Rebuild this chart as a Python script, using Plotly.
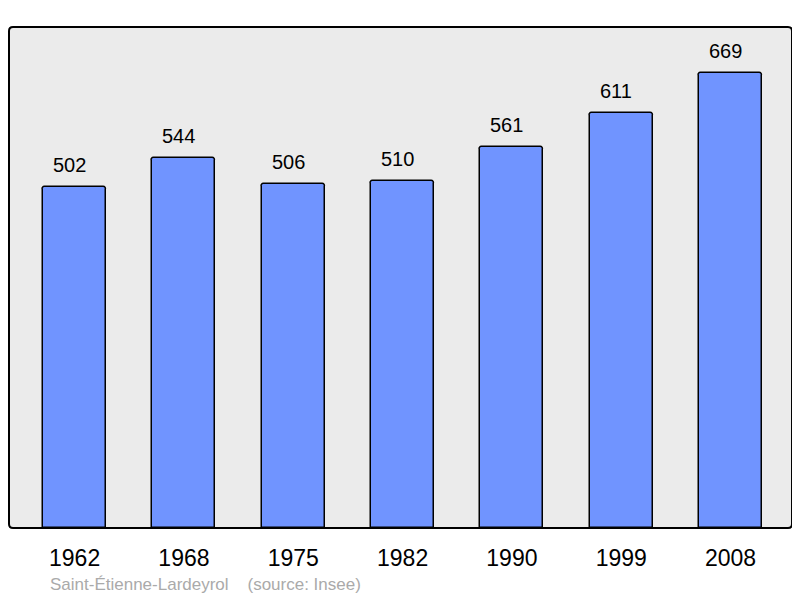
import plotly.graph_objects as go

years = ["1962", "1968", "1975", "1982", "1990", "1999", "2008"]
population = [502, 544, 506, 510, 561, 611, 669]
footer = "Saint-Étienne-Lardeyrol    (source: Insee)"

# page has an 8px body margin; figure drawn at (8,8)
W, H = 792, 590
L, R, T, B = 1, 8, 19, 70
PW, PH = W - L - R, H - T - B

fig = go.Figure()
fig.add_trace(go.Bar(
    x=list(range(len(years))), y=population,
    width=0.576,
    marker=dict(color="#7094FF", line=dict(color="black", width=1.5), cornerradius=3),
    hoverinfo="skip",
))

for i, v in enumerate(population):
    fig.add_annotation(x=i, y=v, text=str(v), showarrow=False, yanchor="bottom",
                       yshift=9, xshift=-5,
                       font=dict(size=20, color="black", family="Liberation Sans, Arial"))

fig.add_annotation(xref="paper", yref="paper", x=(48 - 9) / PW, y=-(584 - 528) / PH,
                   xanchor="left", yanchor="middle", text=footer, showarrow=False,
                   font=dict(size=17, color="#AAAAAA", family="Liberation Sans, Arial"))

# rounded plot border
rx, ry = 4 / PW, 4 / PH
path = (f"M {rx},0 L {1-rx},0 Q 1,0 1,{ry} L 1,{1-ry} Q 1,1 {1-rx},1 "
        f"L {rx},1 Q 0,1 0,{1-ry} L 0,{ry} Q 0,0 {rx},0 Z")
fig.add_shape(type="path", xref="paper", yref="paper", path=path,
              line=dict(color="black", width=2), fillcolor="rgba(0,0,0,0)", layer="above")

fig.update_layout(
    width=W, height=H,
    margin=dict(l=L, r=R, t=T, b=B),
    paper_bgcolor="white", plot_bgcolor="#EBEBEB",
    showlegend=False,
    bargap=0,
    xaxis=dict(range=[-0.6, 6.562], tickmode="array", tickvals=list(range(len(years))),
               ticktext=years, showgrid=False, zeroline=False, ticks="outside", ticklen=9,
               tickcolor="rgba(0,0,0,0)", tickfont=dict(size=23, color="black", family="Liberation Sans, Arial"),
               fixedrange=True),
    yaxis=dict(range=[0, 737], showgrid=False, zeroline=False, showticklabels=False, fixedrange=True),
)

fig.write_html("out.html")
